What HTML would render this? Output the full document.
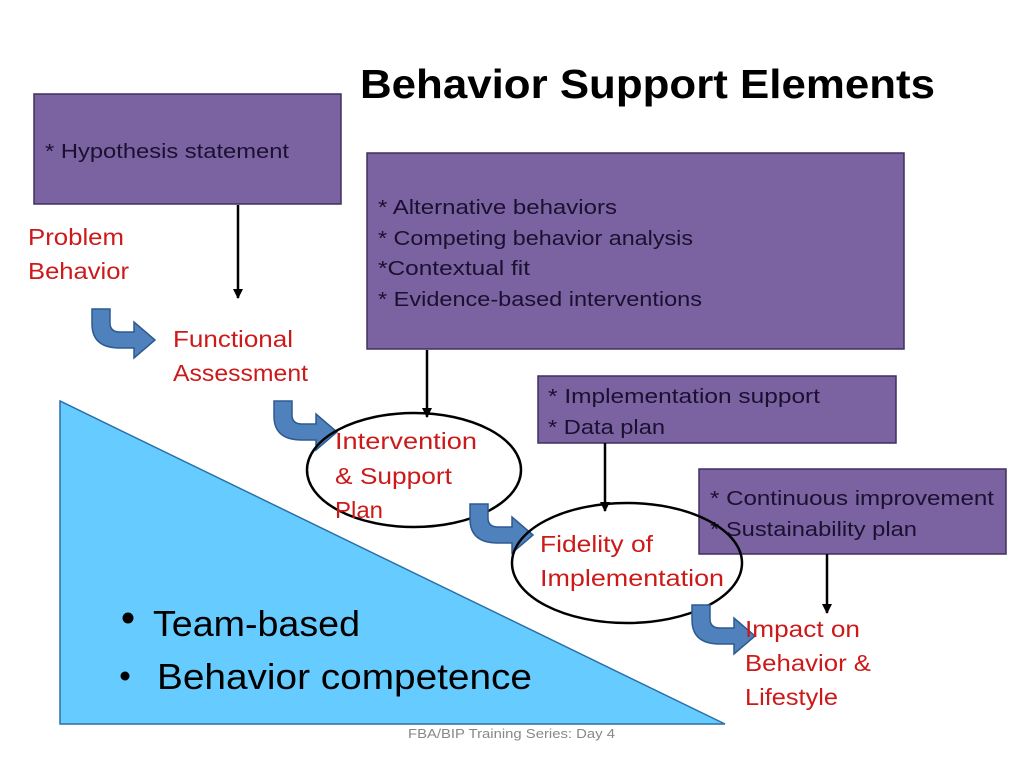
<!DOCTYPE html>
<html><head><style>
html,body{margin:0;padding:0;background:#fff;}
svg{display:block;}
text{font-family:"Liberation Sans",sans-serif;}
.r{fill:#cc1a1a;font-size:23px;}
.b{fill:#1a1030;font-size:20.5px;}
</style></head><body>
<svg width="1024" height="768" viewBox="0 0 1024 768" xmlns="http://www.w3.org/2000/svg">
<defs>
<marker id="ah" markerWidth="10" markerHeight="10" refX="9" refY="5" orient="auto" markerUnits="userSpaceOnUse">
<path d="M0,0 L10,5 L0,10 Z" fill="#000"/></marker>
<path id="ca" d="M0,0 L18,0 L18,14 Q18,23 28,23 L42,23 L42,13 L63,31 L42,49 L42,39 L28,39 Q0,39 0,15 Z" fill="#4f81bd" stroke="#2e5a8f" stroke-width="1.5"/>
</defs>
<polygon points="60,401 60,724 725,724" fill="#66ccff" stroke="#2a6fa8" stroke-width="1.5"/>
<text x="360" y="98" font-size="41" font-weight="bold" fill="#000" textLength="575" lengthAdjust="spacingAndGlyphs">Behavior Support Elements</text>

<rect x="34" y="94" width="307" height="110" fill="#7b62a0" stroke="#3f3060" stroke-width="1.5"/>
<text x="45" y="158" class="b" textLength="244" lengthAdjust="spacingAndGlyphs">* Hypothesis statement</text>
<line x1="238" y1="205" x2="238" y2="298" stroke="#000" stroke-width="2.5" marker-end="url(#ah)"/>
<text x="28" y="245" class="r" textLength="96" lengthAdjust="spacingAndGlyphs">Problem</text>
<text x="28" y="279" class="r" textLength="101" lengthAdjust="spacingAndGlyphs">Behavior</text>
<use href="#ca" x="92" y="309"/>
<text x="173" y="347" class="r" textLength="120" lengthAdjust="spacingAndGlyphs">Functional</text>
<text x="173" y="381" class="r" textLength="135" lengthAdjust="spacingAndGlyphs">Assessment</text>

<rect x="367" y="153" width="537" height="196" fill="#7b62a0" stroke="#3f3060" stroke-width="1.5"/>
<text x="378" y="214" class="b" textLength="239" lengthAdjust="spacingAndGlyphs">* Alternative behaviors</text>
<text x="378" y="245" class="b" textLength="315" lengthAdjust="spacingAndGlyphs">* Competing behavior analysis</text>
<text x="378" y="275" class="b" textLength="152" lengthAdjust="spacingAndGlyphs">*Contextual fit</text>
<text x="378" y="306" class="b" textLength="324" lengthAdjust="spacingAndGlyphs">* Evidence-based interventions</text>
<line x1="427" y1="350" x2="427" y2="417" stroke="#000" stroke-width="2.5" marker-end="url(#ah)"/>

<use href="#ca" x="274" y="401"/>
<ellipse cx="414" cy="470" rx="107" ry="57" fill="none" stroke="#000" stroke-width="2.5"/>
<text x="335" y="449" class="r" textLength="142" lengthAdjust="spacingAndGlyphs">Intervention</text>
<text x="335" y="484" class="r" textLength="117" lengthAdjust="spacingAndGlyphs">&amp; Support</text>
<text x="335" y="518" class="r" textLength="48" lengthAdjust="spacingAndGlyphs">Plan</text>

<rect x="538" y="376" width="358" height="67" fill="#7b62a0" stroke="#3f3060" stroke-width="1.5"/>
<text x="548" y="403" class="b" textLength="272" lengthAdjust="spacingAndGlyphs">* Implementation support</text>
<text x="548" y="434" class="b" textLength="117" lengthAdjust="spacingAndGlyphs">* Data plan</text>
<line x1="605" y1="443" x2="605" y2="511" stroke="#000" stroke-width="2.5" marker-end="url(#ah)"/>

<use href="#ca" x="470" y="504"/>
<rect x="699" y="469" width="307" height="85" fill="#7b62a0" stroke="#3f3060" stroke-width="1.5"/>
<text x="710" y="505" class="b" textLength="284" lengthAdjust="spacingAndGlyphs">* Continuous improvement</text>
<text x="710" y="536" class="b" textLength="207" lengthAdjust="spacingAndGlyphs">* Sustainability plan</text>
<ellipse cx="627" cy="563" rx="115" ry="60" fill="none" stroke="#000" stroke-width="2.5"/>
<text x="540" y="552" class="r" textLength="113" lengthAdjust="spacingAndGlyphs">Fidelity of</text>
<text x="540" y="586" class="r" textLength="184" lengthAdjust="spacingAndGlyphs">Implementation</text>
<line x1="827" y1="554" x2="827" y2="613" stroke="#000" stroke-width="2.5" marker-end="url(#ah)"/>

<use href="#ca" x="692" y="605"/>
<text x="745" y="637" class="r" textLength="115" lengthAdjust="spacingAndGlyphs">Impact on</text>
<text x="745" y="671" class="r" textLength="126" lengthAdjust="spacingAndGlyphs">Behavior &amp;</text>
<text x="745" y="705" class="r" textLength="93" lengthAdjust="spacingAndGlyphs">Lifestyle</text>

<circle cx="128" cy="618" r="5.5" fill="#000"/>
<text x="153" y="636" font-size="36" fill="#000" textLength="207" lengthAdjust="spacingAndGlyphs">Team-based</text>
<circle cx="125" cy="676" r="4.5" fill="#000"/>
<text x="157" y="689" font-size="36" fill="#000" textLength="375" lengthAdjust="spacingAndGlyphs">Behavior competence</text>
<text x="408" y="738" font-size="13" fill="#888" textLength="207" lengthAdjust="spacingAndGlyphs">FBA/BIP Training Series: Day 4</text>
</svg>
</body></html>
